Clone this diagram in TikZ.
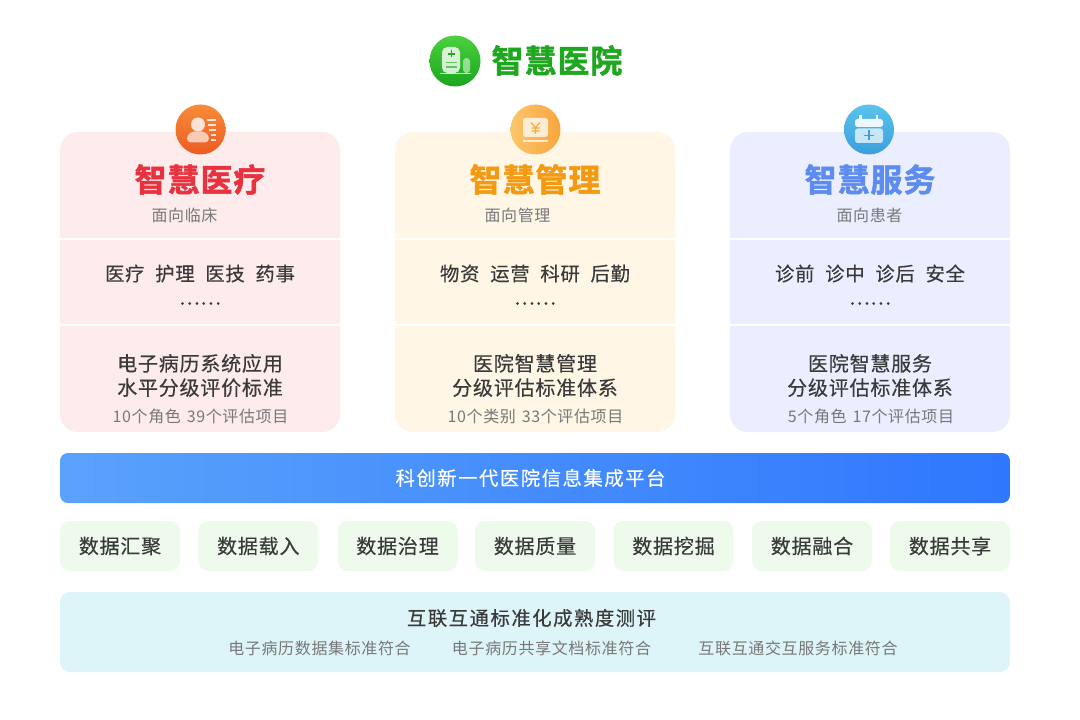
\documentclass[tikz,border=0pt]{standalone}
\usepackage{fontspec}
\setmainfont{Noto Sans CJK SC}
\newfontfamily\fTitle[LetterSpace=3,FakeBold=1.6]{Noto Sans CJK SC Bold}
\newfontfamily\fMed[LetterSpace=4,FakeBold=0.35]{Noto Sans CJK SC}
\newfontfamily\fWide[LetterSpace=8,FakeBold=0.35]{Noto Sans CJK SC}
\newfontfamily\fSmall[LetterSpace=4]{Noto Sans CJK SC}
\usetikzlibrary{calc}
\definecolor{txt}{HTML}{3A3A3A}
\definecolor{subt}{HTML}{787878}
\definecolor{cRed}{HTML}{FEEBEC}
\definecolor{cOrg}{HTML}{FFF6E5}
\definecolor{cBlu}{HTML}{EBEEFF}
\definecolor{tRed}{HTML}{E8323F}
\definecolor{tOrg}{HTML}{F39A12}
\definecolor{tBlu}{HTML}{5C8CF0}
\definecolor{tGrn}{HTML}{1FA81F}
\definecolor{boxG}{HTML}{EDFAEC}
\definecolor{boxC}{HTML}{DDF5F9}
\definecolor{HgT}{HTML}{4CD13E}
\definecolor{HgB}{HTML}{18A51E}
\definecolor{IaL}{HTML}{F88C3A}
\definecolor{IaR}{HTML}{EC5B22}
\definecolor{IbL}{HTML}{FDC56B}
\definecolor{IbR}{HTML}{F8A63E}
\definecolor{IcT}{HTML}{5BC3EC}
\definecolor{IcB}{HTML}{3A9FDC}
\definecolor{barL}{HTML}{5AA2FB}
\definecolor{barR}{HTML}{2F77FD}
\newcommand{\wgap}{\hspace{4.2pt}}
\tikzset{
  x=0.75pt,y=-0.75pt,
  card/.style={fill=#1,rounded corners=13.5pt,draw=none,inner sep=0pt,minimum width=210pt,minimum height=225pt},
  rule/.style={draw=white,line width=1.5pt},
  head/.style={font=\fontsize{24}{24}\fTitle,inner sep=0pt},
  subh/.style={font=\fontsize{12}{12}\fSmall,text=subt,inner sep=0pt},
  item/.style={font=\fontsize{14.5}{14.5}\fMed,text=txt,inner sep=0pt},
  std/.style={font=\fontsize{15}{18.2}\fMed,text=txt,inner sep=0pt,align=center},
  tool/.style={fill=boxG,rounded corners=7.5pt,minimum width=90pt,minimum height=37.5pt,inner sep=0pt,font=\fontsize{15}{15}\fMed,text=txt},
}
\newcommand{\cardblock}[9]{%
 \node[card=#3] (#1) at (#2,282) {};
 \draw[rule] ($(#1.west)+(0,-43)$) -- ($(#1.east)+(0,-43)$);
 \draw[rule] ($(#1.west)+(0,43)$) -- ($(#1.east)+(0,43)$);
 \node[head,text=#4] (#1t) at (#2,179.5) {#5};
 \node[item] (#1i) at (#2,273.5) {#6};
 \node[item] (#1d) at (#2,303.5) {……};
 \node[std] (#1m) at (#2,375.5) {#7};
 \node[subh] (#1c) at (#8,416) {#9};
}
\begin{document}
\begin{tikzpicture}
\useasboundingbox (0,0) rectangle (1080,720);
\fill[white] (0,0) rectangle (1080,720);

% header
\shade[top color=HgT,bottom color=HgB] (455,61) circle[radius=25.5];
\fill[white,opacity=.8,rounded corners=4pt] (442,73) -- (442,47) -- (460,47) -- (460,73) -- cycle;
\fill[white,opacity=.5,rounded corners=2.5pt] (463,73) -- (463,58) -- (470,58) -- (470,73) -- cycle;
\draw[white,opacity=.8,line width=.9pt] (440,73.2) -- (471,73.2);
\draw[tGrn,line width=1.1pt] (451.5,50.5) -- (451.5,57.5) (448,54) -- (455,54);
\draw[tGrn!70,line width=.8pt] (445.5,62.5) -- (457,62.5) (445.5,67) -- (457,67);
\node[font=\fontsize{24}{24}\fTitle,text=tGrn,inner sep=0pt] (title) at (557,60.5) {智慧医院};

\cardblock{a}{200}{cRed}{tRed}{智慧医疗}{医疗\wgap\ 护理\wgap\ 医技\wgap\ 药事}{电子病历系统应用\\水平分级评价标准}{200.5}{10个角色\hspace{1.2pt} 39个评估项目}
\cardblock{b}{535}{cOrg}{tOrg}{智慧管理}{物资\wgap\ 运营\wgap\ 科研\wgap\ 后勤}{医院智慧管理\\分级评估标准体系}{535.5}{10个类别\hspace{1.2pt} 33个评估项目}
\cardblock{c}{870}{cBlu}{tBlu}{智慧服务}{诊前\wgap\ 诊中\wgap\ 诊后\wgap\ 安全}{医院智慧服务\\分级评估标准体系}{871}{5个角色\hspace{1.2pt} 17个评估项目}
\node[subh] (as) at (184.5,215) {面向临床};
\node[subh] (bs) at (517.5,215) {面向管理};
\node[subh] (cs) at (869.5,215) {面向患者};

% icon a
\shade[left color=IaL,right color=IaR,shading angle=0] (200.5,129.5) circle[radius=25];
\fill[white,opacity=.8] (198,124.5) circle[radius=7];
\fill[white,opacity=.65,rounded corners=3pt] (187,142.5) .. controls (187,134) and (192,131.5) .. (198,131.5) .. controls (204,131.5) and (209,134) .. (209,142.5) -- cycle;
\draw[white,opacity=.8,line width=1pt] (207,120) -- (216,120) (208,125) -- (216,125) (209,130) -- (216,130) (211,135) -- (216,135) (211,140) -- (216,140);
% icon b
\shade[left color=IbL,right color=IbR] (535.5,129.5) circle[radius=25];
\fill[white,opacity=.75,rounded corners=2pt] (523,118) rectangle (548,137);
\draw[white,opacity=.75,line width=1.3pt] (523,141) -- (548,141);
\draw[tOrg!80,line width=.9pt] (531,122.5) -- (535.5,127.5) -- (540,122.5) (535.5,127.5) -- (535.5,134) (531.5,128) -- (539.5,128) (531.5,131) -- (539.5,131);
% icon c
\shade[top color=IcT,bottom color=IcB] (869,129.5) circle[radius=25];
\fill[white,opacity=.9,rounded corners=2pt] (855,119) rectangle (883,127);
\fill[white,opacity=.7,rounded corners=2pt] (855,128.5) rectangle (883,143);
\draw[white,line width=1.6pt] (860.5,115.5) -- (860.5,120) (877,115.5) -- (877,120);
\draw[IcB,line width=1.3pt] (869,130.5) -- (869,140.5) (864,135.5) -- (874,135.5);

% platform bar
\node[rounded corners=6pt,left color=barL,right color=barR,minimum width=712.5pt,minimum height=37.5pt,inner sep=0pt] (plat) at (535,478) {};
\node[font=\fontsize{14.5}{14.5}\fWide,text=white,inner sep=0pt] (platT) at (530.5,478) {科创新一代医院信息集成平台};

% tools
\node[tool] (t1) at (120,546) {数据汇聚};
\node[tool] (t2) at (258.3,546) {数据载入};
\node[tool] (t3) at (397.5,546) {数据治理};
\node[tool] (t4) at (535,546) {数据质量};
\node[tool] (t5) at (673.5,546) {数据挖掘};
\node[tool] (t6) at (812,546) {数据融合};
\node[tool] (t7) at (950,546) {数据共享};

% bottom
\node[fill=boxC,rounded corners=7.5pt,minimum width=712.5pt,minimum height=60pt,inner sep=0pt] (bot) at (535,632) {};
\node[font=\fontsize{14.5}{14.5}\fWide,text=txt,inner sep=0pt] (botT) at (531.5,618) {互联互通标准化成熟度测评};
\node[subh] (b1) at (319.5,648) {电子病历数据集标准符合};
\node[subh] (b2) at (551.5,648) {电子病历共享文档标准符合};
\node[subh] (b3) at (798,648) {互联互通交互服务标准符合};
\end{tikzpicture}
\end{document}
